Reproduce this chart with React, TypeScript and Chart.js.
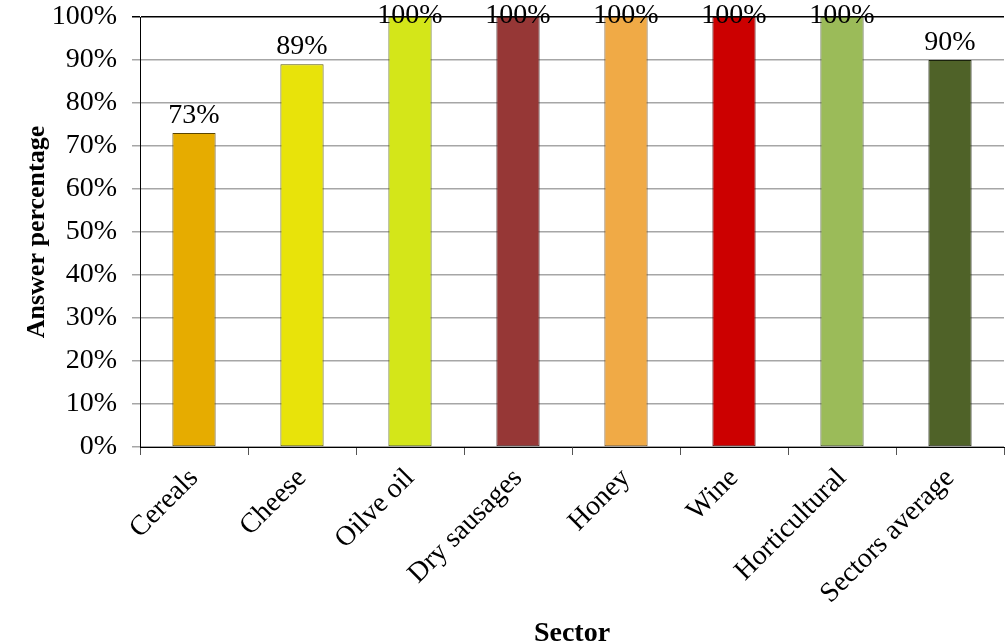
import React, { useEffect, useRef } from "react";
import { Chart, registerables } from "chart.js";

Chart.register(...registerables);

const categories = ["Cereals", "Cheese", "Oilve oil", "Dry sausages", "Honey", "Wine", "Horticultural", "Sectors average"];
const values = [73, 89, 100, 100, 100, 100, 100, 90];
const barColors = ["#E6AC00", "#E8E30A", "#D4E619", "#963736", "#F0AA46", "#CC0000", "#9BBB59", "#4F6228"];
const borderColors = ["#5a4500", "#5a5800", "#52600a", "#3a1414", "#6e4a1a", "#500000", "#3e4e22", "#1a220c"];
const yTicks = [0, 10, 20, 30, 40, 50, 60, 70, 80, 90, 100];

const SERIF = "'Liberation Serif', 'Times New Roman', serif";

const labelPlugin = {
  id: "valueLabels",
  afterDatasetsDraw(chart: any) {
    const { ctx, chartArea } = chart;
    const meta = chart.getDatasetMeta(0);
    ctx.save();
    ctx.font = `28px ${SERIF}`;
    ctx.fillStyle = "#000";
    ctx.textAlign = "center";
    ctx.textBaseline = "alphabetic";
    meta.data.forEach((bar: any, i: number) => {
      const y = Math.max(bar.y - 10, chartArea.top + 6);
      ctx.fillText(values[i] + "%", bar.x, y);
    });
    ctx.restore();
  },
};

export default function App() {
  const ref = useRef<HTMLCanvasElement | null>(null);
  useEffect(() => {
    if (!ref.current) return;
    const chart = new Chart(ref.current, {
      type: "bar",
      data: {
        labels: categories,
        datasets: [
          {
            data: values,
            backgroundColor: barColors,
            borderColor: borderColors,
            borderWidth: 1,
            borderSkipped: false,
            barPercentage: 0.4,
            categoryPercentage: 1,
          },
        ],
      },
      options: {
        animation: false,
        responsive: false,
        maintainAspectRatio: false,
        layout: { padding: { top: 17, right: 4, left: 0, bottom: 0 } },
        plugins: { legend: { display: false }, tooltip: { enabled: false } },
        scales: {
          x: {
            grid: {
              offset: true,
              drawOnChartArea: false,
              tickLength: 8,
              color: "#555",
            },
            border: { color: "#000", width: 1 },
            ticks: {
              color: "#000",
              font: { family: SERIF, size: 28 },
              minRotation: 45,
              maxRotation: 45,
              padding: 7,
              autoSkip: false,
            },
            title: {
              display: true,
              text: "Sector",
              color: "#000",
              font: { family: SERIF, size: 28, weight: "bold" },
              padding: { top: 0, bottom: 9 },
            },
            afterFit: (s: any) => {
              s.height = 213;
              s.paddingLeft = 0;
              s.paddingRight = 0;
            },
          },
          y: {
            min: 0,
            max: 100,
            afterBuildTicks: (s: any) => {
              s.ticks = yTicks.map((v) => ({ value: v }));
            },
            grid: {
              tickLength: 8,
              color: (c: any) => (c.tick && c.tick.value === 100 ? "#000" : "#a6a6a6"),
              lineWidth: 1.5,
            },
            border: { color: "#000", width: 1 },
            ticks: {
              color: "#000",
              font: { family: SERIF, size: 28 },
              padding: 15,
              callback: (v: any) => v + "%",
            },
            title: {
              display: true,
              text: "Answer percentage",
              color: "#000",
              font: { family: SERIF, size: 26, weight: "bold" },
              padding: { top: 22, bottom: 0 },
            },
            afterFit: (s: any) => {
              s.width = 140;
              s.paddingTop = 0;
              s.paddingBottom = 0;
            },
          },
        },
      },
      plugins: [labelPlugin],
    });
    return () => chart.destroy();
  }, []);
  return (
    <div style={{ position: "fixed", left: 0, top: 0, width: 1008, height: 643, overflow: "hidden", background: "#fff" }}>
      <canvas ref={ref} width={1008} height={660} style={{ display: "block" }} />
    </div>
  );
}
